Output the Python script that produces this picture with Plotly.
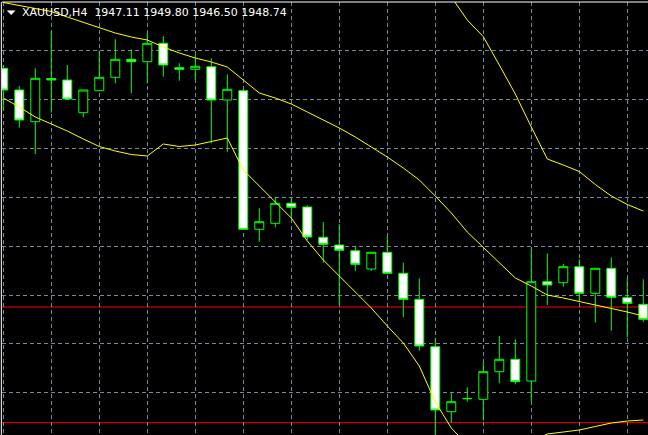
import plotly.graph_objects as go

# XAUUSD H4 - bars visible on screen (left -> right)
bars = list(range(41))

opens = [1973.17, 1971.00, 1967.83, 1972.15, 1972.00, 1968.73, 1970.93, 1972.27, 1974.07, 1973.83,
         1975.67, 1973.23, 1973.07, 1973.33, 1970.00, 1970.93, 1957.07, 1957.67, 1959.67, 1959.30,
         1956.27, 1955.50, 1954.93, 1953.10, 1954.77, 1952.67, 1950.07, 1945.33, 1938.83, 1940.12,
         1940.07, 1942.83, 1944.07, 1941.90, 1951.83, 1951.73, 1953.33, 1950.67, 1953.17, 1950.23,
         1949.57]
highs = [1973.50, 1971.40, 1973.17, 1976.93, 1973.50, 1971.00, 1974.93, 1976.07, 1975.07, 1976.73,
         1976.40, 1973.67, 1974.50, 1974.17, 1972.57, 1971.10, 1959.17, 1960.33, 1960.27, 1959.47,
         1957.80, 1957.60, 1955.33, 1954.77, 1956.33, 1953.73, 1952.17, 1946.17, 1940.73, 1941.27,
         1943.77, 1946.40, 1946.07, 1955.17, 1954.67, 1953.60, 1954.07, 1953.17, 1954.27, 1952.17,
         1952.07]
lows = [1969.00, 1967.23, 1964.60, 1968.73, 1970.00, 1968.27, 1970.93, 1971.67, 1970.67, 1971.67,
        1972.33, 1971.93, 1972.00, 1965.67, 1964.83, 1957.00, 1955.83, 1957.27, 1958.17, 1956.00,
        1953.73, 1949.50, 1952.93, 1952.90, 1952.67, 1948.27, 1944.93, 1936.20, 1937.73, 1939.83,
        1937.93, 1941.67, 1941.57, 1939.83, 1949.50, 1951.33, 1949.83, 1947.73, 1946.93, 1946.27,
        1947.80]
closes = [1971.00, 1968.00, 1972.17, 1972.00, 1970.10, 1971.00, 1972.27, 1974.07, 1973.83, 1975.67,
          1973.50, 1973.07, 1973.37, 1970.00, 1971.07, 1957.07, 1957.83, 1959.67, 1959.27, 1956.30,
          1955.57, 1954.97, 1953.57, 1954.77, 1952.67, 1950.07, 1945.40, 1939.00, 1939.83, 1940.15,
          1942.83, 1944.07, 1941.83, 1951.83, 1951.50, 1953.33, 1950.67, 1953.17, 1950.27, 1949.67,
          1948.07]

# bollinger bands
bb_mid = [1979.75, 1979.45, 1979.20, 1978.85, 1978.30, 1977.75, 1977.20, 1976.70, 1976.30, 1976.00,
          1975.30, 1974.70, 1974.20, 1973.80, 1973.30, 1972.00, 1970.70, 1970.20, 1969.60, 1968.80,
          1968.00, 1967.20, 1966.30, 1965.30, 1964.30, 1963.20, 1962.00, 1960.40, 1958.70, 1956.80,
          1955.30, 1953.80, 1952.20, 1951.40, 1950.50, 1950.20, 1949.85, 1949.50, 1949.20, 1948.80,
          1948.40]
bb_low = [1970.20, 1969.30, 1968.30, 1967.60, 1966.90, 1966.10, 1965.35, 1964.90, 1964.55, 1964.40,
          1965.60, 1965.35, 1965.50, 1965.85, 1966.20, 1963.00, 1961.40, 1959.80, 1958.20, 1955.90,
          1954.00, 1952.40, 1950.80, 1949.20, 1947.40, 1945.70, 1943.40, 1939.80, 1937.20, 1935.50,
          1934.50, 1934.20, 1934.50, 1935.80, 1936.60, 1936.80, 1937.00, 1937.35, 1937.70, 1937.90,
          1938.00]
# upper band is above the window until the sell-off
bb_up_bars = [27, 28, 29, 30, 31, 32, 33, 34, 35, 36, 37, 38, 39, 40]
bb_up = [1981.20, 1980.30, 1978.00, 1976.33, 1973.50, 1970.60, 1967.30, 1964.10, 1963.50, 1962.85,
         1961.55, 1960.40, 1959.55, 1958.90]

hlines = [1949.30, 1937.73]  # red horizontal lines
title = "XAUUSD,H4  1947.11 1949.80 1946.50 1948.74"

W, H = 648, 435
green = "#00ff00"
yellow = "#ffff00"

fig = go.Figure()
fig.add_scatter(x=bars, y=bb_mid, mode="lines", line=dict(color=yellow, width=1), hoverinfo="skip")
fig.add_scatter(x=bars, y=bb_low, mode="lines", line=dict(color=yellow, width=1), hoverinfo="skip")
fig.add_scatter(x=bb_up_bars, y=bb_up, mode="lines", line=dict(color=yellow, width=1), hoverinfo="skip")
fig.add_candlestick(x=bars, open=opens, high=highs, low=lows, close=closes,
                    increasing=dict(fillcolor="#000000", line=dict(color=green, width=1)),
                    decreasing=dict(fillcolor="#ffffff", line=dict(color=green, width=1)),
                    whiskerwidth=0)

for lv in hlines:
    fig.add_hline(y=lv, line=dict(color="#ff0000", width=1), layer="below")

grid_dash = "4px,3px"
fig.update_layout(
    width=W, height=H,
    margin=dict(l=2, r=0, t=2, b=0),
    paper_bgcolor="#000000", plot_bgcolor="#000000",
    showlegend=False, boxgap=0.2, boxgroupgap=0.3,
    xaxis=dict(range=[-0.081, 40.294], autorange=False, tick0=3, dtick=3, showgrid=True,
               gridcolor="#778899", griddash=grid_dash, gridwidth=1, showticklabels=False,
               zeroline=False, rangeslider=dict(visible=False), ticks=""),
    yaxis=dict(range=[1936.5, 1979.8], autorange=False, tick0=1974.95, dtick=4.89, showgrid=True,
               gridcolor="#778899", griddash=grid_dash, gridwidth=1, showticklabels=False,
               zeroline=False, ticks=""),
)

# chart frame (top / left)
fig.add_shape(type="line", xref="paper", yref="paper", x0=0, x1=1, y0=1, y1=1,
              line=dict(color="#ffffff", width=1))
fig.add_shape(type="line", xref="paper", yref="paper", x0=-0.001, x1=-0.001, y0=0, y1=1,
              line=dict(color="#ffffff", width=1))

# symbol caption with the little drop-down triangle
tri = "M %.4f,%.4f L %.4f,%.4f L %.4f,%.4f Z" % (5.3 / 646, 1 - 8.7 / 433, 13 / 646, 1 - 8.7 / 433,
                                                 9.15 / 646, 1 - 12.7 / 433)
fig.add_shape(type="path", xref="paper", yref="paper", path=tri,
              fillcolor="#ffffff", line=dict(color="#ffffff", width=0.5))
fig.add_annotation(text=title, xref="paper", yref="paper", x=18 / 646, y=1 - 10.8 / 433,
                   xanchor="left", yanchor="middle", showarrow=False,
                   font=dict(family="DejaVu Sans", size=11, color="#ffffff"))

# page without body margin so the chart sits at the window corner
fig.write_html("out.html", config={"displayModeBar": False},
               post_script="document.body.style.margin='0';"
                           "document.body.style.overflow='hidden';")
